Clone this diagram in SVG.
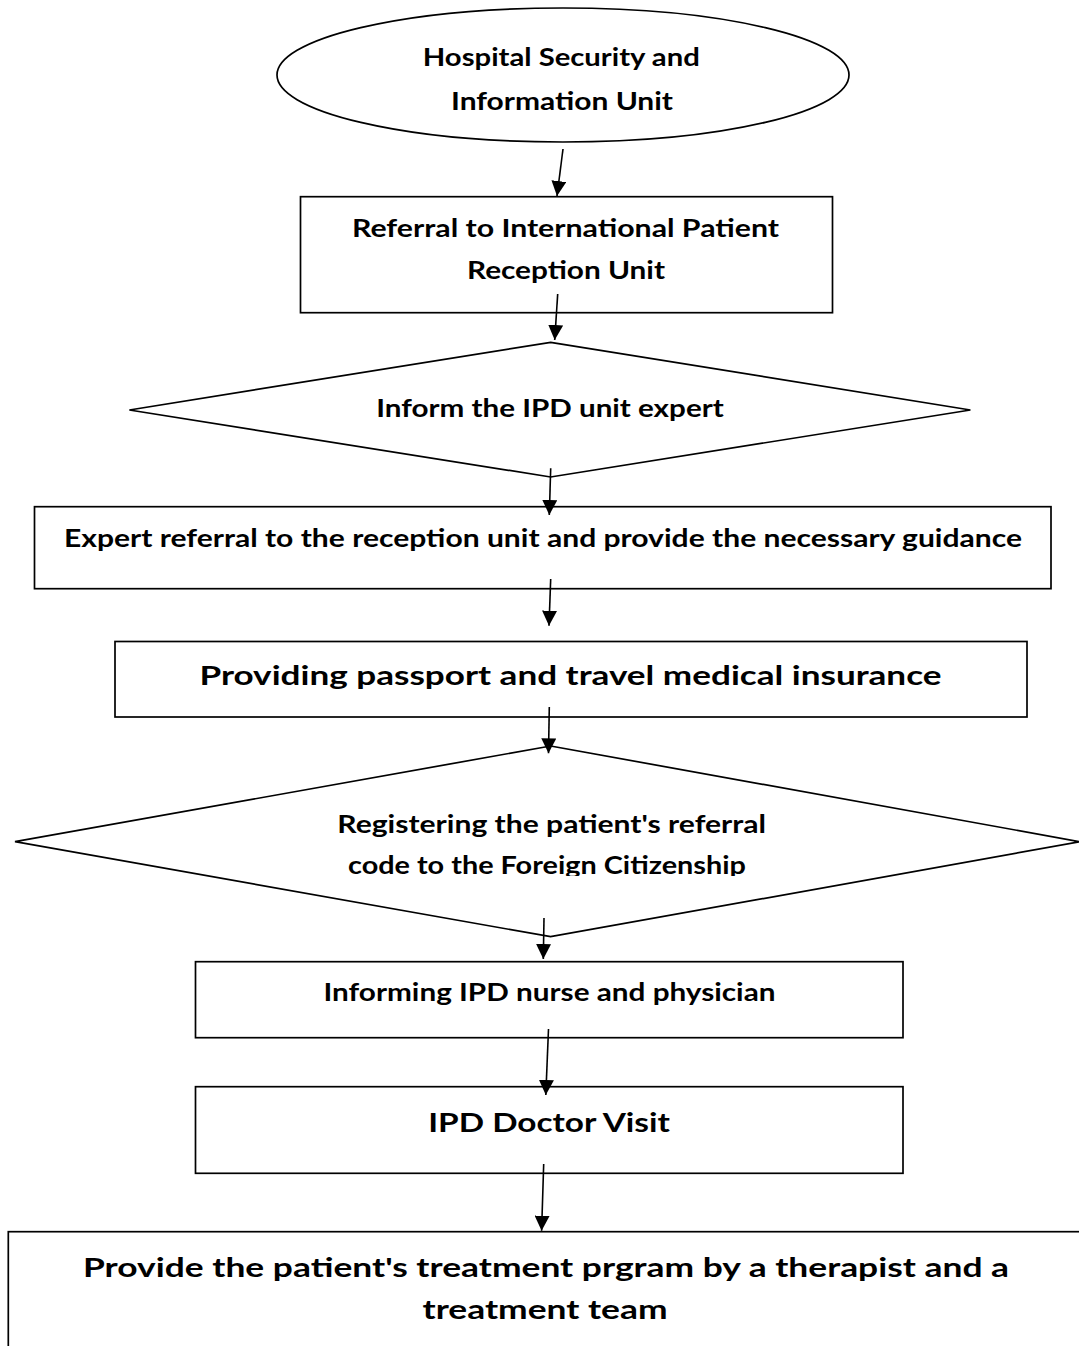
<svg xmlns="http://www.w3.org/2000/svg" width="1079" height="1346" viewBox="0 0 1079 1346">
<style>
.shape{fill:#fff;stroke:#000;stroke-width:1.7}
.t{font-family:Lato,"Open Sans","Liberation Sans",sans-serif;font-weight:bold;font-size:24px;fill:#000;text-anchor:middle}
.big{font-size:27px}
.conn{stroke:#000;stroke-width:1.6;fill:none;marker-end:url(#ah)}
</style>
<defs>
<marker id="ah" markerUnits="userSpaceOnUse" markerWidth="15" markerHeight="15" viewBox="0 0 15 15" refX="15" refY="7.5" orient="auto">
<path d="M0,0 L15,7.5 L0,15 z" fill="#000"/>
</marker>
<clipPath id="clipD2"><rect x="0" y="740" width="1079" height="136"/></clipPath>
</defs>
<rect width="1079" height="1346" fill="#fff"/>
<g id="n1">
<ellipse class="shape" cx="563" cy="75" rx="286" ry="67"/>
<text class="t" x="561.3" y="66" textLength="277" lengthAdjust="spacingAndGlyphs">Hospital Security and</text>
<text class="t" x="562" y="110" textLength="222" lengthAdjust="spacingAndGlyphs">Information Unit</text>
</g>
<g id="n2">
<rect class="shape" x="300.5" y="196.7" width="532" height="116"/>
<text class="t" x="565.5" y="237" textLength="427" lengthAdjust="spacingAndGlyphs">Referral to International Patient</text>
<text class="t" x="566" y="279" textLength="198" lengthAdjust="spacingAndGlyphs">Reception Unit</text>
</g>
<g id="n3">
<polygon class="shape" points="550.6,342.3 970.4,410 550.6,477 129.4,410"/>
<text class="t" x="550" y="417" textLength="347.5" lengthAdjust="spacingAndGlyphs">Inform the IPD unit expert</text>
</g>
<g id="n4">
<rect class="shape" x="34.5" y="506.7" width="1016.5" height="82"/>
<text class="t" x="543" y="547" textLength="958" lengthAdjust="spacingAndGlyphs">Expert referral to the reception unit and provide the necessary guidance</text>
</g>
<g id="n5">
<rect class="shape" x="115" y="641.5" width="912" height="75.5"/>
<text class="t big" x="570.5" y="685" textLength="742" lengthAdjust="spacingAndGlyphs">Providing passport and travel medical insurance</text>
</g>
<g id="n6">
<polygon class="shape" points="550.6,746 1080,841.7 550.6,936.7 15,841.7"/>
<text class="t" x="551.7" y="833" textLength="428.7" lengthAdjust="spacingAndGlyphs">Registering the patient's referral</text>
<text class="t" x="547" y="874" textLength="398" lengthAdjust="spacingAndGlyphs" clip-path="url(#clipD2)">code to the Foreign Citizenship</text>
</g>
<g id="n7">
<rect class="shape" x="195.5" y="961.7" width="707.5" height="76"/>
<text class="t" x="549.5" y="1001" textLength="452" lengthAdjust="spacingAndGlyphs">Informing IPD nurse and physician</text>
</g>
<g id="n8">
<rect class="shape" x="195.5" y="1086.7" width="707.5" height="86.6"/>
<text class="t big" x="549" y="1132" textLength="241.7" lengthAdjust="spacingAndGlyphs">IPD Doctor Visit</text>
</g>
<g id="n9">
<rect class="shape" x="8.3" y="1231.7" width="1080" height="130"/>
<text class="t big" x="546" y="1277" textLength="926" lengthAdjust="spacingAndGlyphs">Provide the patient's treatment prgram by a therapist and a</text>
<text class="t big" x="545" y="1319" textLength="245" lengthAdjust="spacingAndGlyphs">treatment team</text>
</g>
<g id="connectors">
<line class="conn" x1="563" y1="149" x2="557" y2="196"/>
<line class="conn" x1="557.7" y1="294" x2="554.7" y2="340"/>
<line class="conn" x1="550.7" y1="468.3" x2="549.3" y2="515"/>
<line class="conn" x1="550.7" y1="579" x2="549" y2="625.7"/>
<line class="conn" x1="549.3" y1="707" x2="548.5" y2="753.3"/>
<line class="conn" x1="544" y1="918" x2="543.3" y2="959"/>
<line class="conn" x1="548.5" y1="1029" x2="545.8" y2="1095"/>
<line class="conn" x1="543.7" y1="1164" x2="541.6" y2="1230.7"/>
</g>
</svg>
